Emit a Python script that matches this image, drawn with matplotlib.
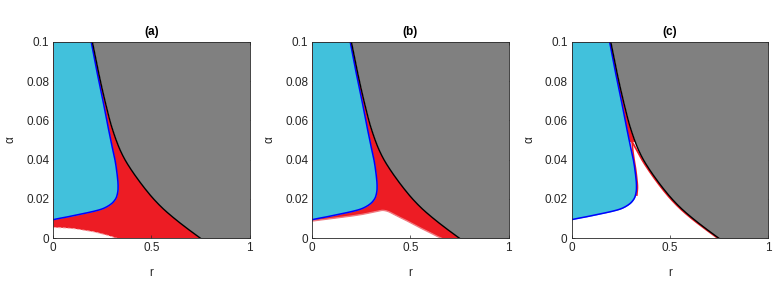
import numpy as np
import matplotlib
matplotlib.use("Agg")
import matplotlib.pyplot as plt

plt.rcParams['font.family'] = ['Liberation Sans', 'DejaVu Sans']

# ---- data ----
panel_titles = ['(a)', '(b)', '(c)']
x_ticks = [0, 0.5, 1]
x_tick_labels = ['0', '0.5', '1']
y_ticks = [0, 0.02, 0.04, 0.06, 0.08, 0.1]
y_tick_labels = ['0', '0.02', '0.04', '0.06', '0.08', '0.1']

# black boundary (gray region to the right)
black_alpha = [0.1, 0.09, 0.08, 0.07, 0.06, 0.055, 0.05, 0.045, 0.04, 0.035,
               0.03, 0.025, 0.02, 0.015, 0.01, 0.005, 0.0]
black_r = [0.199, 0.219, 0.240, 0.263, 0.288, 0.303, 0.320, 0.340, 0.365, 0.396,
           0.431, 0.469, 0.511, 0.560, 0.618, 0.682, 0.750]

# blue boundary (cyan region to the left)
blue_alpha = [0.1, 0.09, 0.08, 0.07, 0.06, 0.05, 0.045, 0.04, 0.035, 0.03, 0.027,
              0.024, 0.021, 0.019, 0.0175, 0.016, 0.0148, 0.0137, 0.0126, 0.0115,
              0.0105, 0.0095]
blue_r = [0.193, 0.212, 0.232, 0.253, 0.272, 0.293, 0.303, 0.314, 0.322, 0.328, 0.330,
          0.329, 0.322, 0.310, 0.295, 0.272, 0.245, 0.205, 0.155, 0.105,
          0.05, 0.0]

# lower edge of the red region, panel (a)
a_low_r = [0, 0.05, 0.102, 0.15, 0.204, 0.25, 0.28, 0.306, 0.325]
a_low_alpha = [0.0055, 0.0053, 0.0049, 0.0042, 0.0033, 0.0022, 0.0014, 0.0005, 0.0]

# lower edge of the red region, panel (b)
b_low_r = [0, 0.08, 0.168, 0.25, 0.30, 0.338, 0.362, 0.39, 0.424, 0.47, 0.509,
           0.55, 0.594, 0.63, 0.658]
b_low_alpha = [0.0088, 0.0098, 0.0109, 0.0121, 0.0131, 0.0139, 0.0142, 0.0135,
               0.0117, 0.0095, 0.0075, 0.0053, 0.0032, 0.0013, 0.0]

# panel (c): cusp and the two red branches
c_cusp_alpha = 0.049
c_left_alpha = [0.049, 0.045, 0.04, 0.035, 0.03, 0.026, 0.022]
c_left_r = [0.308, 0.311, 0.318, 0.326, 0.332, 0.335, 0.332]
c_right_alpha = [0.049, 0.045, 0.04, 0.035, 0.03, 0.025, 0.02, 0.015, 0.01, 0.005, 0.0]
c_right_r = [0.308, 0.331, 0.358, 0.390, 0.425, 0.463, 0.505, 0.554, 0.612, 0.677, 0.745]

CYAN = '#41C1DC'
RED = '#ED1C24'
GRAY = '#808080'
TXT = '#262626'


def smooth(xs, ys, n=16):
    """Catmull-Rom curve through the read points (drawing only)."""
    P = np.column_stack([np.asarray(xs, float), np.asarray(ys, float) * 10.0])
    P = np.vstack([2 * P[0] - P[1], P, 2 * P[-1] - P[-2]])
    out = []
    t = np.linspace(0, 1, n, endpoint=False)[:, None]
    for k in range(1, len(P) - 2):
        p0, p1, p2, p3 = P[k - 1], P[k], P[k + 1], P[k + 2]
        seg = 0.5 * ((2 * p1) + (-p0 + p2) * t + (2 * p0 - 5 * p1 + 4 * p2 - p3) * t ** 2
                     + (-p0 + 3 * p1 - 3 * p2 + p3) * t ** 3)
        out.append(seg)
    out.append(P[-2][None, :])
    Q = np.vstack(out)
    return Q[:, 0], Q[:, 1] / 10.0


fig = plt.figure(figsize=(7.83, 2.83), dpi=100)
lefts = [53.3, 312.3, 571.7]
W, H = 783.0, 283.0
axes = [fig.add_axes([l / W, (H - 238.3) / H, 196.3 / W, 196.6 / H]) for l in lefts]

br, ba = smooth(black_r, black_alpha)
ur, ua = smooth(blue_r, blue_alpha)
alr, ala = smooth(a_low_r, a_low_alpha)
blr, bla = smooth(b_low_r, b_low_alpha)
clr, cla = smooth(c_left_r, c_left_alpha)
crr, cra = smooth(c_right_r, c_right_alpha)

for i, ax in enumerate(axes):
    ax.set_xlim(0, 1)
    ax.set_ylim(0, 0.1)
    # red region
    if i == 0:
        px = list(alr) + list(br[::-1]) + [0.0]
        py = list(ala) + list(ba[::-1]) + [0.1]
        ax.fill(px, py, color=RED, lw=0, zorder=1)
    elif i == 1:
        px = list(blr) + list(br[::-1]) + [0.0]
        py = list(bla) + list(ba[::-1]) + [0.1]
        ax.fill(px, py, color=RED, lw=0, zorder=1)
    else:
        m = ba >= c_cusp_alpha
        px = [c_left_r[0]] + list(br[m])[::-1] + [0.0, 0.0]
        py = [c_cusp_alpha] + list(ba[m])[::-1] + [0.1, c_cusp_alpha]
        ax.fill(px, py, color=RED, lw=0, zorder=1)
    # cyan region
    ax.fill_betweenx(ua, 0, ur, color=CYAN, lw=0, zorder=2)
    # gray region
    ax.fill_betweenx(ba, br, 1, color=GRAY, lw=0, zorder=2)
    # red edge details
    if i == 0:
        ax.plot(alr, ala, color='#f6b0b3', lw=0.7, ls=(0, (3, 2)), zorder=3)
    elif i == 1:
        ax.plot(blr, bla, color='#f07a80', lw=1.0, zorder=3)
    else:
        ax.plot(clr, cla, color=RED, lw=1.2, zorder=3)
        ax.plot(crr, cra, color=RED, lw=1.3, zorder=3)
    # boundary lines
    ax.plot(ur, ua, color='#0000FF', lw=1.1, zorder=4)
    ax.plot(br, ba, color='black', lw=1.0, zorder=4)

    ax.set_xticks(x_ticks)
    ax.set_xticklabels(x_tick_labels)
    ax.set_yticks(y_ticks)
    ax.set_yticklabels(y_tick_labels)
    ax.tick_params(direction='in', length=2.5, width=0.5, top=True, right=True,
                   colors=TXT, labelsize=8.5, pad=3)
    for s in ax.spines.values():
        s.set_color(TXT)
        s.set_linewidth(0.6)
        s.set_zorder(5)
    ax.set_xlabel('r', fontsize=8.5, color=TXT)
    ax.xaxis.set_label_coords(0.5, -0.145)
    ax.set_ylabel('α', fontsize=8.5, color=TXT)
    ax.yaxis.set_label_coords(-0.185, 0.5)
    ax.text(0.5, 1.048, panel_titles[i], transform=ax.transAxes, ha='center',
            va='center', fontsize=8.5, fontweight='bold', color='black')

fig.savefig('out.png', dpi=100)
